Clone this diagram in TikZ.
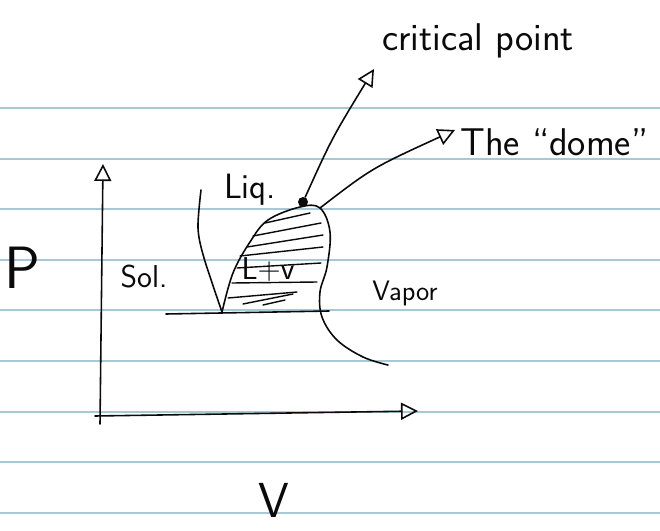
\documentclass[tikz,border=0pt]{standalone}
\usepackage{tikz}
\usetikzlibrary{arrows.meta,positioning}
\definecolor{rulingblue}{RGB}{168,200,214}
\definecolor{inkblack}{RGB}{10,10,10}
\tikzset{
  ink/.style={draw=inkblack, line width=0.9pt, line cap=round, line join=round},
  ruling/.style={draw=rulingblue, line width=1.2pt},
  hand/.style={font=\sffamily\fontsize{#1}{#1}\selectfont, inner sep=0pt, text=inkblack},
  tip/.style={-{Triangle[open,length=3.4mm,width=3.4mm]}},
  arr/.style={ink, tip},
  hatch/.style={ink, line width=0.8pt},
  cpdot/.style={circle, fill=inkblack, inner sep=0pt, minimum size=2mm},
}
\begin{document}
\begin{tikzpicture}[x=0.02cm,y=-0.02cm]
  \useasboundingbox (0,0) rectangle (660,531);
  % ruled paper
  \foreach \i in {0,...,8}{\draw[ruling] (0,{108+50.6*\i}) -- (660,{108+50.6*\i});}
  % axes
  \coordinate (ybot) at (100,424);
  \coordinate (ytop) at (103,164);
  \coordinate (xleft) at (95,416);
  \coordinate (xright) at (418,411);
  \draw[arr] (ybot) -- (ytop);
  \draw[arr] (xleft) -- (xright);
  \node[hand=34] (plbl) at (22,268) {P};
  \node[hand=28, anchor=base] (vlbl) at (274,517) {V};
  % phase boundaries
  \coordinate (tp) at (222,312);
  \coordinate (domeR) at (320,208);
  \draw[ink] (166,314) -- (329,311);
  \draw[ink] plot[smooth] coordinates {(201,190) (198,228) (204,258) (tp)};
  \draw[ink] plot[smooth, tension=0.6] coordinates {(tp) (233,273) (250,242) (268,220) (300,207) (domeR) (330,232) (327,267) (320,292) (322,317) (337,340) (363,357) (388,365)};
  % two-phase hatching
  \foreach \xa/\ya/\xb/\yb in {265/223/310/213, 253/236/321/223, 247/247/323/235, 240/256/323/247, 237/268/321/263, 232/283/317/282, 228/298/297/292, 243/304/293/294, 263/305/285/300}
    {\draw[hatch] (\xa,\ya) -- (\xb,\yb);}
  \node[cpdot] (cp) at (303,202) {};
  % region labels
  \node[hand=18] (sol) at (144,277) {Sol.};
  \node[hand=20] (liq) at (250,190) {Liq.};
  \node[hand=18] (lv) at (268,270) {L+v};
  \node[hand=16] (vap) at (405,293) {Vapor};
  % callouts
  \node[hand=22, anchor=base west] (cplbl) at (382,50) {critical point};
  \node[hand=22, anchor=base west] (domelbl) at (460,155) {The ``dome''};
  \coordinate (cptip) at (374,69);
  \coordinate (dometip) at (455,130);
  \draw[arr] (cp) .. controls (332,138) .. (cptip);
  \draw[arr] (domeR) .. controls (372,168) .. (dometip);
\end{tikzpicture}
\end{document}
